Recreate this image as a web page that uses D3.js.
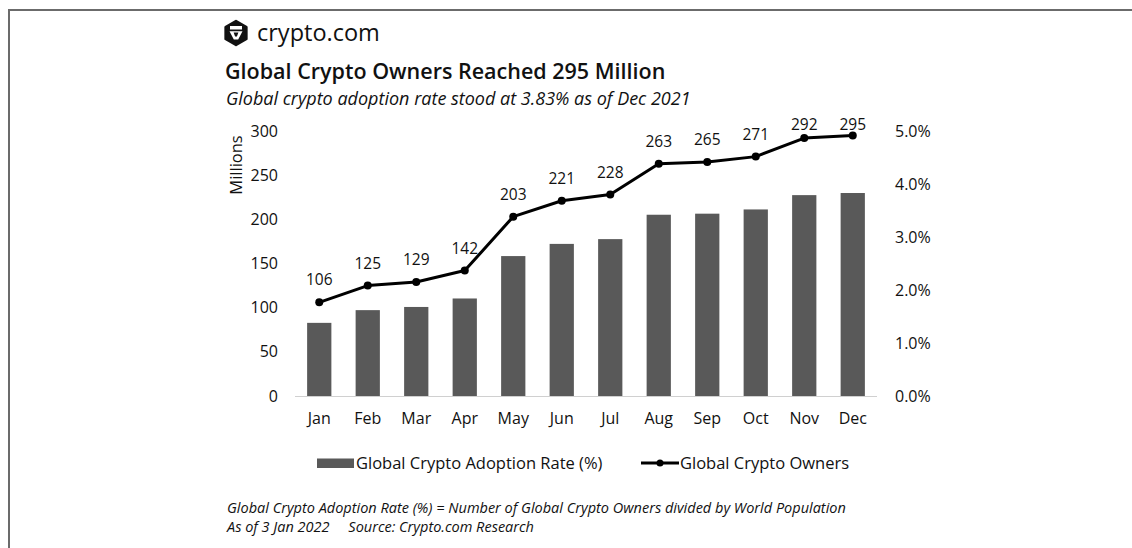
<!DOCTYPE html>
<html>
<head>
<meta charset="utf-8">
<script src="https://cdn.jsdelivr.net/npm/d3@7"></script>
<style>
  html, body { margin: 0; padding: 0; background: #fff; }
  svg { display: block; }
  text { font-family: "Open Sans", "Noto Sans", sans-serif; fill: #111; }
</style>
</head>
<body>
<svg id="chart" width="1132" height="548"></svg>
<script>
// ---- data ----
const months = ["Jan","Feb","Mar","Apr","May","Jun","Jul","Aug","Sep","Oct","Nov","Dec"];
const owners = [106,125,129,142,203,221,228,263,265,271,292,295];          // millions
const adoptionRate = [1.38,1.62,1.68,1.84,2.64,2.87,2.96,3.42,3.44,3.52,3.79,3.83]; // %
const leftTicks = [0,50,100,150,200,250,300];
const rightTicks = [0,1,2,3,4,5];

const svg = d3.select("#chart");

// frame
svg.append("path").attr("d", "M9,548 V10 H1132").attr("fill","none")
  .attr("stroke","#6b6b6b").attr("stroke-width",2);

// logo
const lg = svg.append("g").attr("transform","translate(236,33)");
const hex = d3.range(6).map(i => { const a = (-90 + 60*i) * Math.PI/180; return [12*Math.cos(a), 12*Math.sin(a)]; });
lg.append("path").attr("d", d3.line().curve(d3.curveLinearClosed)(hex)).attr("fill","#111")
  .attr("stroke","#111").attr("stroke-width",2.5).attr("stroke-linejoin","round");
lg.append("rect").attr("x",-6).attr("y",-7).attr("width",12).attr("height",3.5).attr("fill","#fff");
lg.append("path").attr("d","M-6.5,-1.8 L6.5,-1.8 L2.2,6.5 L-2.2,6.5 Z M-2.4,-0.4 L2.4,-0.4 L0.9,3.4 L-0.9,3.4 Z")
  .attr("fill","#fff").attr("fill-rule","evenodd");
svg.append("text").attr("x",257).attr("y",41).attr("font-size",23.5).attr("font-weight",500).text("crypto.com");

// titles
svg.append("text").attr("x",225).attr("y",79).attr("font-size",21.5).attr("font-weight",600)
  .text("Global Crypto Owners Reached 295 Million");
svg.append("text").attr("x",226).attr("y",105).attr("font-size",18).attr("font-style","italic")
  .text("Global crypto adoption rate stood at 3.83% as of Dec 2021");

// scales
const x = d3.scaleBand().domain(months).range([295,877]).paddingInner(0.5).paddingOuter(0.25);
const yL = d3.scaleLinear().domain([0,300]).range([396,131]);
const yR = d3.scaleLinear().domain([0,5]).range([396,131]);

// bars
svg.append("g").selectAll("rect").data(months).join("rect")
  .attr("x", d => x(d)).attr("width", x.bandwidth())
  .attr("y", (d,i) => yR(adoptionRate[i])).attr("height", (d,i) => yR(0) - yR(adoptionRate[i]))
  .attr("fill","#595959");

// baseline
svg.append("line").attr("x1",295).attr("x2",877).attr("y1",396.5).attr("y2",396.5)
  .attr("stroke","#d0d0d0").attr("stroke-width",1.2);

// axes
const gl = svg.append("g").attr("transform","translate(295,0)")
  .call(d3.axisLeft(yL).tickValues(leftTicks).tickSize(0).tickPadding(17));
gl.select(".domain").remove();
gl.selectAll("text").attr("font-size",16).attr("fill","#111").style("font-family",'"Open Sans", sans-serif');

const gr = svg.append("g").attr("transform","translate(877,0)")
  .call(d3.axisRight(yR).tickValues(rightTicks).tickSize(0).tickPadding(18).tickFormat(d => d.toFixed(1) + "%"));
gr.select(".domain").remove();
gr.selectAll("text").attr("font-size",16).attr("fill","#111").style("font-family",'"Open Sans", sans-serif');

const gx = svg.append("g").attr("transform","translate(0,396)")
  .call(d3.axisBottom(x).tickSize(0).tickPadding(17));
gx.select(".domain").remove();
gx.selectAll("text").attr("font-size",16).attr("fill","#111").style("font-family",'"Open Sans", sans-serif');

svg.append("text").attr("transform","translate(242,165) rotate(-90)").attr("text-anchor","middle")
  .attr("font-size",16.5).text("Millions");

// line
const cx = d => x(d) + x.bandwidth()/2;
svg.append("path").datum(months)
  .attr("d", d3.line().x(d => cx(d)).y((d,i) => yL(owners[i])))
  .attr("fill","none").attr("stroke","#000").attr("stroke-width",3).attr("stroke-linejoin","round");
svg.append("g").selectAll("circle").data(months).join("circle")
  .attr("cx", d => cx(d)).attr("cy", (d,i) => yL(owners[i])).attr("r",4).attr("fill","#000");

// data labels
svg.append("g").selectAll("text").data(months).join("text")
  .attr("x", d => cx(d)).attr("text-anchor","middle").attr("font-size",15.5)
  .attr("y", (d,i) => Math.max(yL(owners[i]) - 22.5, 124) + 5.5)
  .text((d,i) => owners[i]);

// legend
svg.append("rect").attr("x",317).attr("y",458.5).attr("width",37).attr("height",9.5).attr("fill","#595959");
svg.append("text").attr("x",356).attr("y",469).attr("font-size",16.5).text("Global Crypto Adoption Rate (%)");
svg.append("line").attr("x1",641).attr("x2",679).attr("y1",463).attr("y2",463).attr("stroke","#000").attr("stroke-width",3);
svg.append("circle").attr("cx",660).attr("cy",463).attr("r",3.5).attr("fill","#000");
svg.append("text").attr("x",680).attr("y",469).attr("font-size",16.5).text("Global Crypto Owners");

// footer
svg.append("text").attr("x",227).attr("y",513).attr("font-size",14.5).attr("font-style","italic")
  .text("Global Crypto Adoption Rate (%) = Number of Global Crypto Owners divided by World Population");
svg.append("text").attr("x",227).attr("y",532).attr("font-size",14.5).attr("font-style","italic")
  .attr("xml:space","preserve").text("As of 3 Jan 2022     Source: Crypto.com Research");
</script>
</body>
</html>
